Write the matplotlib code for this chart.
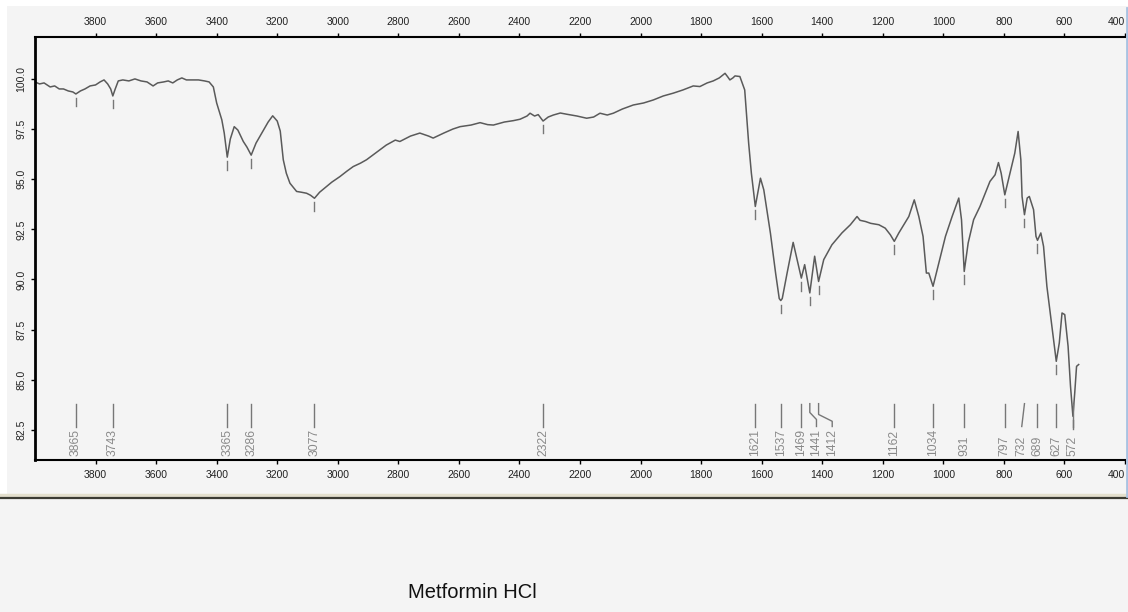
import numpy as np
import matplotlib.pyplot as plt
from matplotlib.lines import Line2D
from matplotlib.patches import Rectangle

plt.rcParams['font.family'] = ['Liberation Sans', 'DejaVu Sans']

# FTIR spectrum of metformin HCl: wavenumber (cm-1) vs transmittance (%)
wavenumber = [
    4000, 3985, 3970, 3950, 3935, 3920, 3906, 3890, 3875, 3865, 3850, 3835,
    3818, 3800, 3785, 3772, 3760, 3750, 3743, 3735, 3725, 3710, 3690, 3670,
    3650, 3630, 3610, 3595, 3575, 3560, 3545, 3530, 3515, 3500, 3480, 3460,
    3440, 3425, 3411, 3400, 3383, 3375, 3365, 3355, 3342, 3330, 3312, 3300,
    3286, 3270, 3251, 3230, 3215, 3200, 3190, 3180, 3170, 3158, 3136, 3120,
    3103, 3090, 3077, 3060, 3037, 3020, 2993, 2970, 2949, 2925, 2905, 2880,
    2861, 2840, 2828, 2810, 2795, 2760, 2729, 2700, 2685, 2650, 2620, 2596,
    2560, 2530, 2505, 2486, 2450, 2420, 2398, 2375, 2365, 2350, 2338, 2322,
    2305, 2288, 2265, 2244, 2210, 2178, 2155, 2134, 2110, 2090, 2060, 2024,
    1990, 1958, 1925, 1892, 1860, 1826, 1804, 1780, 1760, 1740, 1721, 1712,
    1705, 1695, 1688, 1672, 1656, 1643, 1634, 1621, 1604, 1593, 1571, 1554,
    1542, 1537, 1532, 1516, 1496, 1483, 1469, 1458, 1441, 1425, 1412, 1395,
    1368, 1335, 1307, 1285, 1275, 1257, 1240, 1213, 1192, 1175, 1162, 1147,
    1114, 1096, 1081, 1067, 1056, 1048, 1034, 1015, 993, 971, 949, 940,
    931, 918, 900, 879, 846, 829, 818, 809, 797, 780, 764, 753,
    744, 740, 732, 723, 716, 702, 694, 689, 678, 669, 658, 647,
    639, 627, 617, 608, 599, 588, 580, 572, 566, 560, 553,
]
transmittance = [
    99.85, 99.75, 99.80, 99.60, 99.65, 99.50, 99.50, 99.40, 99.35, 99.25, 99.40, 99.50,
    99.65, 99.70, 99.85, 99.95, 99.75, 99.50, 99.15, 99.50, 99.90, 99.95, 99.90, 100.00,
    99.90, 99.85, 99.65, 99.80, 99.85, 99.90, 99.80, 99.95, 100.05, 99.95, 99.95, 99.95,
    99.90, 99.85, 99.60, 98.80, 97.96, 97.30, 96.10, 97.00, 97.62, 97.45, 96.88, 96.60,
    96.20, 96.80, 97.30, 97.85, 98.16, 97.90, 97.40, 95.97, 95.30, 94.80, 94.39, 94.35,
    94.30, 94.20, 94.05, 94.35, 94.64, 94.85, 95.13, 95.40, 95.63, 95.80, 95.97, 96.25,
    96.46, 96.70, 96.80, 96.95, 96.88, 97.15, 97.30, 97.15, 97.05, 97.30, 97.50, 97.62,
    97.70, 97.82, 97.72, 97.70, 97.85, 97.92, 97.99, 98.15, 98.29, 98.15, 98.22, 97.90,
    98.10, 98.20, 98.30, 98.24, 98.15, 98.04, 98.10, 98.29, 98.20, 98.29, 98.50, 98.70,
    98.80, 98.95, 99.15, 99.29, 99.45, 99.65, 99.62, 99.80, 99.90, 100.05, 100.28, 100.10,
    99.95, 100.05, 100.15, 100.12, 99.45, 96.80, 95.30, 93.64, 95.05, 94.47, 92.30, 90.32,
    89.05, 88.95, 89.05, 90.32, 91.85, 90.99, 90.07, 90.74, 89.33, 91.16, 89.90, 90.99,
    91.73, 92.32, 92.73, 93.14, 92.95, 92.89, 92.80, 92.73, 92.56, 92.23, 91.90, 92.32,
    93.14, 93.97, 93.14, 92.15, 90.32, 90.32, 89.66, 90.82, 92.15, 93.14, 94.06, 92.98,
    90.40, 91.82, 92.98, 93.64, 94.89, 95.22, 95.83, 95.30, 94.22, 95.30, 96.30, 97.38,
    95.97, 94.14, 93.23, 94.06, 94.14, 93.48, 92.15, 91.95, 92.32, 91.65, 89.66, 88.33,
    87.33, 85.92, 86.84, 88.33, 88.25, 86.67, 84.68, 83.18, 84.35, 85.67, 85.76,
]

# picked absorption bands
peak_wn = [3865, 3743, 3365, 3286, 3077, 2322, 1621, 1537, 1469, 1441,
           1412, 1162, 1034, 931, 797, 732, 689, 627, 572]

x_ticks = list(range(3800, 399, -200))
y_ticks = [82.5, 85.0, 87.5, 90.0, 92.5, 95.0, 97.5, 100.0]

# crowded labels are pushed sideways (shift in cm-1, towards lower wavenumber)
label_shift = {1441: 22, 1412: 45, 732: -9}

W, H = 1128, 612
fig = plt.figure(figsize=(W / 100, H / 100), dpi=100, facecolor='#f4f4f4')

# white margin at top/left of the window
fig.patches.append(Rectangle((0, 1 - 6 / H), 1, 6 / H, transform=fig.transFigure,
                             facecolor='white', edgecolor='none', zorder=0))
fig.patches.append(Rectangle((0, 1 - 495 / H), 7 / W, 495 / H, transform=fig.transFigure,
                             facecolor='white', edgecolor='none', zorder=0))

ax = fig.add_axes([35 / W, 1 - 460 / H, 1090 / W, 423 / H])
ax.set_facecolor('#f4f4f4')

ax.plot(wavenumber, transmittance, color='#5a5a5a', lw=1.1)

wn_asc = np.array(wavenumber[::-1])
t_asc = np.array(transmittance[::-1])
line_top, line_bot, text_y = 83.81, 82.67, 81.2
for p in peak_wn:
    tmin = np.interp(p, wn_asc, t_asc)
    # short marker under the band minimum
    ax.plot([p, p], [tmin - 0.2, tmin - 0.62], color='#777777', lw=1)
    lx = p - label_shift.get(p, 0)
    if p in (1441, 1412):
        bend1 = 83.37 if p == 1441 else 83.27
        bend2 = 83.02 if p == 1441 else 82.93
        ax.plot([p, p, lx, lx], [line_top, bend1, bend2, line_bot], color='#777777', lw=1)
    else:
        ax.plot([p, lx], [line_top, line_bot], color='#777777', lw=1)
    ax.text(lx, text_y, str(p), rotation=90, ha='center', va='bottom',
            fontsize=8.7, color='#8a8a8a')

ax.set_xlim(4000, 400)
ax.set_ylim(81.0, 102.09)
ax.set_xticks(x_ticks)
ax.set_xticklabels([str(v) for v in x_ticks])
ax.set_yticks(y_ticks)
ax.set_yticklabels([f'{v:.1f}' for v in y_ticks], rotation=90, va='center')

ax.spines['right'].set_visible(False)
ax.spines['left'].set_linewidth(2)
ax.spines['top'].set_linewidth(1.5)
ax.spines['bottom'].set_linewidth(1.5)
ax.tick_params(axis='x', top=True, labeltop=True, bottom=True, labelbottom=True,
               direction='out', length=3, width=1, labelsize=7.5, labelcolor='#222222', pad=4)
ax.tick_params(axis='y', direction='out', length=3, width=1, labelsize=7.5,
               labelcolor='#222222', pad=3)

# last tick label sits left of its tick so it stays inside the window
last_tick = ax.xaxis.get_major_ticks()[-1]
last_tick.label1.set_horizontalalignment('right')
last_tick.label2.set_horizontalalignment('right')

# window frame lines
fig.add_artist(Line2D([0, 1], [1 - 494.5 / H] * 2, color='#e3dfcd', lw=2.5))
fig.add_artist(Line2D([0, 1], [1 - 497.5 / H] * 2, color='#3b3b33', lw=1.6))
fig.add_artist(Line2D([1126.5 / W] * 2, [1 - 8 / H, 1 - 496 / H], color='#a8c2e2', lw=2))

fig.text(472 / W, 1 - 593 / H, 'Metformin HCl', ha='center', va='center',
         fontsize=14.5, color='#111111')

fig.savefig('out.png', dpi=100, facecolor=fig.get_facecolor())
